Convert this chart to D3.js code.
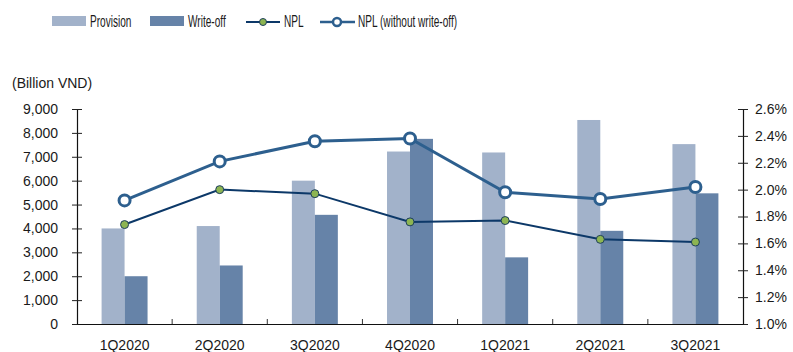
<!DOCTYPE html>
<html>
<head>
<meta charset="utf-8">
<script src="https://cdn.jsdelivr.net/npm/d3@7"></script>
<style>
  html, body { margin: 0; padding: 0; background: #fff; }
  svg { display: block; }
  text { font-family: "Liberation Sans", Arial, sans-serif; fill: #1a1a1a; }
</style>
</head>
<body>
<svg id="chart" width="793" height="352"></svg>
<script>
// Quarterly credit-quality figures
const quarters = ["1Q2020", "2Q2020", "3Q2020", "4Q2020", "1Q2021", "2Q2021", "3Q2021"];
const provision = [4000, 4100, 6000, 7220, 7180, 8540, 7530];     // Billion VND
const writeOff = [2000, 2450, 4570, 7750, 2790, 3900, 5470];      // Billion VND
const npl = [1.74, 2.00, 1.97, 1.76, 1.77, 1.63, 1.61];           // %
const nplNoWriteOff = [1.92, 2.21, 2.36, 2.38, 1.98, 1.93, 2.02]; // %
const leftTicks = [0, 1000, 2000, 3000, 4000, 5000, 6000, 7000, 8000, 9000];
const rightTicks = [1.0, 1.2, 1.4, 1.6, 1.8, 2.0, 2.2, 2.4, 2.6];

const colors = {
  provision: "#a2b2ca",
  writeOff: "#6683a8",
  npl: "#0c3868",
  nplMarker: "#8db552",
  nplNo: "#2d5f8e"
};

const svg = d3.select("#chart");
const m = { left: 77, right: 743, top: 109, bottom: 324 };

const x = d3.scaleBand().domain(quarters).range([m.left, m.right]).paddingInner(0).paddingOuter(0);
const xs = d3.scaleBand().domain(["provision", "writeOff"]).range([0, x.bandwidth()]).paddingInner(0).paddingOuter(1.07);
const yL = d3.scaleLinear().domain([0, 9000]).range([m.bottom, m.top]);
const yR = d3.scaleLinear().domain([1.0, 2.6]).range([m.bottom, m.top]);

// Bars
const groups = svg.append("g").selectAll("g").data(quarters).join("g")
  .attr("transform", d => `translate(${x(d)},0)`);
groups.append("rect")
  .attr("x", xs("provision")).attr("width", xs.bandwidth())
  .attr("y", (d, i) => yL(provision[i])).attr("height", (d, i) => yL(0) - yL(provision[i]))
  .attr("fill", colors.provision);
groups.append("rect")
  .attr("x", xs("writeOff")).attr("width", xs.bandwidth())
  .attr("y", (d, i) => yL(writeOff[i])).attr("height", (d, i) => yL(0) - yL(writeOff[i]))
  .attr("fill", colors.writeOff);

const cx = d => x(d) + x.bandwidth() / 2;

// NPL (without write-off) line
const lineNo = d3.line().x((d, i) => cx(quarters[i])).y(d => yR(d));
svg.append("path").datum(nplNoWriteOff).attr("d", lineNo)
  .attr("fill", "none").attr("stroke", colors.nplNo).attr("stroke-width", 3);
// NPL line
svg.append("path").datum(npl).attr("d", lineNo)
  .attr("fill", "none").attr("stroke", colors.npl).attr("stroke-width", 2);

svg.append("g").selectAll("circle").data(nplNoWriteOff).join("circle")
  .attr("cx", (d, i) => cx(quarters[i])).attr("cy", d => yR(d)).attr("r", 5.5)
  .attr("fill", "#fff").attr("stroke", colors.nplNo).attr("stroke-width", 3);
svg.append("g").selectAll("circle").data(npl).join("circle")
  .attr("cx", (d, i) => cx(quarters[i])).attr("cy", d => yR(d)).attr("r", 4)
  .attr("fill", colors.nplMarker).attr("stroke", "#1d3f5e").attr("stroke-width", 1);

// Axes
const fmt = d3.format(",");
const gl = svg.append("g").attr("transform", `translate(${m.left},0)`)
  .call(d3.axisLeft(yL).tickValues(leftTicks).tickFormat(fmt).tickSizeInner(5).tickSizeOuter(0).tickPadding(14));
gl.selectAll(".tick line").attr("x2", 5).attr("x1", -5);
const gr = svg.append("g").attr("transform", `translate(${m.right},0)`)
  .call(d3.axisRight(yR).tickValues(rightTicks).tickFormat(d => d.toFixed(1) + "%").tickSizeInner(5).tickSizeOuter(0).tickPadding(7));
gr.selectAll(".tick line").attr("x1", -5).attr("x2", 5);
const gb = svg.append("g").attr("transform", `translate(0,${m.bottom})`)
  .call(d3.axisBottom(x).tickSize(0).tickPadding(16));
gb.selectAll(".tick line").remove();
// category separators
gb.selectAll("line.sep").data(quarters.slice(1)).join("line").attr("class", "sep")
  .attr("x1", d => x(d)).attr("x2", d => x(d)).attr("y1", 0).attr("y2", -5)
  .attr("stroke", "#333").attr("stroke-width", 1);

[gl, gr, gb].forEach(g => {
  g.selectAll("text").attr("font-size", 14).attr("font-family", "Liberation Sans, Arial, sans-serif").attr("fill", "#1a1a1a");
  g.selectAll(".domain").attr("stroke", "#111").attr("stroke-width", 1.2);
  g.selectAll(".tick line").attr("stroke", "#222");
});

svg.append("text").attr("x", 12).attr("y", 88).attr("font-size", 14).text("(Billion VND)");

// Legend (condensed lettering)
const lg = svg.append("g");
const ly = 21;
const legendText = (tx, label) => lg.append("text")
  .attr("transform", `translate(${tx},${ly + 6}) scale(0.63,1)`)
  .attr("font-size", 16).text(label);
lg.append("rect").attr("x", 52).attr("y", ly - 5).attr("width", 34).attr("height", 10).attr("fill", colors.provision);
legendText(90, "Provision");
lg.append("rect").attr("x", 150).attr("y", ly - 5).attr("width", 34).attr("height", 10).attr("fill", colors.writeOff);
legendText(188, "Write-off");
lg.append("line").attr("x1", 246).attr("x2", 280).attr("y1", ly + 1).attr("y2", ly + 1).attr("stroke", colors.npl).attr("stroke-width", 2);
lg.append("circle").attr("cx", 263).attr("cy", ly + 1).attr("r", 3.5).attr("fill", colors.nplMarker).attr("stroke", "#1d3f5e");
legendText(284, "NPL");
lg.append("line").attr("x1", 320).attr("x2", 355).attr("y1", ly + 1).attr("y2", ly + 1).attr("stroke", colors.nplNo).attr("stroke-width", 2.5);
lg.append("circle").attr("cx", 337).attr("cy", ly + 1).attr("r", 4).attr("fill", "#fff").attr("stroke", colors.nplNo).attr("stroke-width", 2.5);
legendText(358, "NPL (without write-off)");
</script>
</body>
</html>
